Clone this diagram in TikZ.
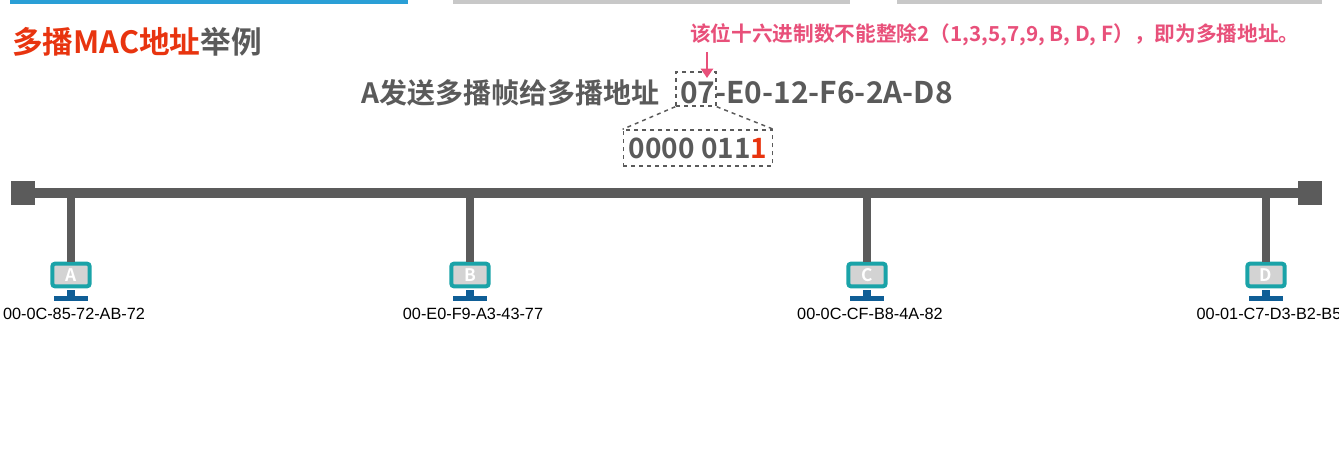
\documentclass[tikz,border=0pt]{standalone}
\usepackage{fontspec}
\setmainfont{Liberation Sans}
\newfontfamily\cjk{Noto Sans CJK SC}[BoldFont={* Bold}]
\usetikzlibrary{positioning,arrows.meta}
\definecolor{titlered}{HTML}{E8340F}
\definecolor{textgray}{HTML}{5A5A5A}
\definecolor{notepink}{HTML}{E8507A}
\definecolor{bargray}{HTML}{C8C8C8}
\definecolor{barblue}{HTML}{2A9FD6}
\definecolor{busgray}{HTML}{5B5B5B}
\definecolor{screenteal}{HTML}{1AA3A8}
\definecolor{standblue}{HTML}{0F5E96}

\tikzset{
  bus/.style={draw=busgray,line width=7.5pt},
  drop/.style={draw=busgray,line width=6pt},
  busend/.style={fill=busgray},
  zoombox/.style={draw=textgray,dashed,line width=1.1pt},
  host/.style={draw=screenteal,fill=bargray!80,line width=3pt,rounded corners=2pt,
    minimum width=28pt,minimum height=17pt,inner sep=0pt,text=white,
    font=\cjk\bfseries\fontsize{13}{13}\selectfont},
  maclabel/.style={font=\fontsize{12.2}{12.2}\selectfont}
}

\begin{document}
\begin{tikzpicture}[x=0.75pt,y=-0.75pt]
  \useasboundingbox (0,0) rectangle (1339,466);

  % tabs at the top
  \fill[barblue] (10,0) rectangle (408,4);
  \fill[bargray] (453,0) rectangle (850,4);
  \fill[bargray] (897,0) rectangle (1322,4);

  % title
  \node[anchor=west,inner sep=0pt,font=\cjk\bfseries\fontsize{23}{23}\selectfont] (title) at (12,42)
    {\textcolor{titlered}{多播MAC地址}\textcolor{textgray}{举例}};

  % multicast address
  \node[anchor=east,inner sep=0pt,text=textgray,font=\cjk\bfseries\fontsize{21}{21}\selectfont] (send) at (660,93) {A发送多播帧给多播地址};
  \node[anchor=west,inner sep=0pt,text=textgray,font=\cjk\bfseries\fontsize{22.4}{22.4}\selectfont] (mac) at (680,93) {07-E0-12-F6-2A-D8};
  \node[zoombox,minimum width=30pt,minimum height=25.5pt] (first) at (696,89) {};

  % note and arrow
  \node[anchor=west,inner sep=0pt,text=notepink,font=\cjk\bfseries\fontsize{15.5}{15.5}\selectfont] (note) at (690,35)
    {该位十六进制数不能整除2（1,3,5,7,9, B, D, F），即为多播地址。};
  \coordinate (tip) at (707,78);
  \draw[notepink,line width=2pt,-{Triangle[length=7pt,width=9pt]}] (707,52) -- (tip);

  % binary
  \node[zoombox,minimum width=112pt,minimum height=27pt,text=textgray,
    font=\cjk\bfseries\fontsize{21}{21}\selectfont] (bin) at (698,148) {0000 011\textcolor{titlered}{1}};
  \draw[zoombox] (first.south west) -- (bin.north west);
  \draw[zoombox] (first.south east) -- (bin.north east);

  % bus
  \node[busend,minimum size=18pt,inner sep=0pt] (endl) at (23,193) {};
  \node[busend,minimum size=18pt,inner sep=0pt] (endr) at (1310,193) {};
  \draw[bus] (endl) -- (endr);

  % hosts
  \foreach \x/\n/\m in {71/A/00-0C-85-72-AB-72, 470/B/00-E0-F9-A3-43-77,
                        867/C/00-0C-CF-B8-4A-82, 1266/D/00-01-C7-D3-B2-B5} {
    \coordinate (tap\n) at (\x,193);
    \node[host] (pc\n) at (\x,275) {\n};
    \draw[drop] (tap\n) -- (pc\n.north);
    \fill[standblue] (\x-4,290) rectangle (\x+4,296);
    \fill[standblue] (\x-17,296) rectangle (\x+17,301);
    \node[maclabel] (mac\n) at (\x+3,314) {\m};
  }
\end{tikzpicture}
\end{document}
